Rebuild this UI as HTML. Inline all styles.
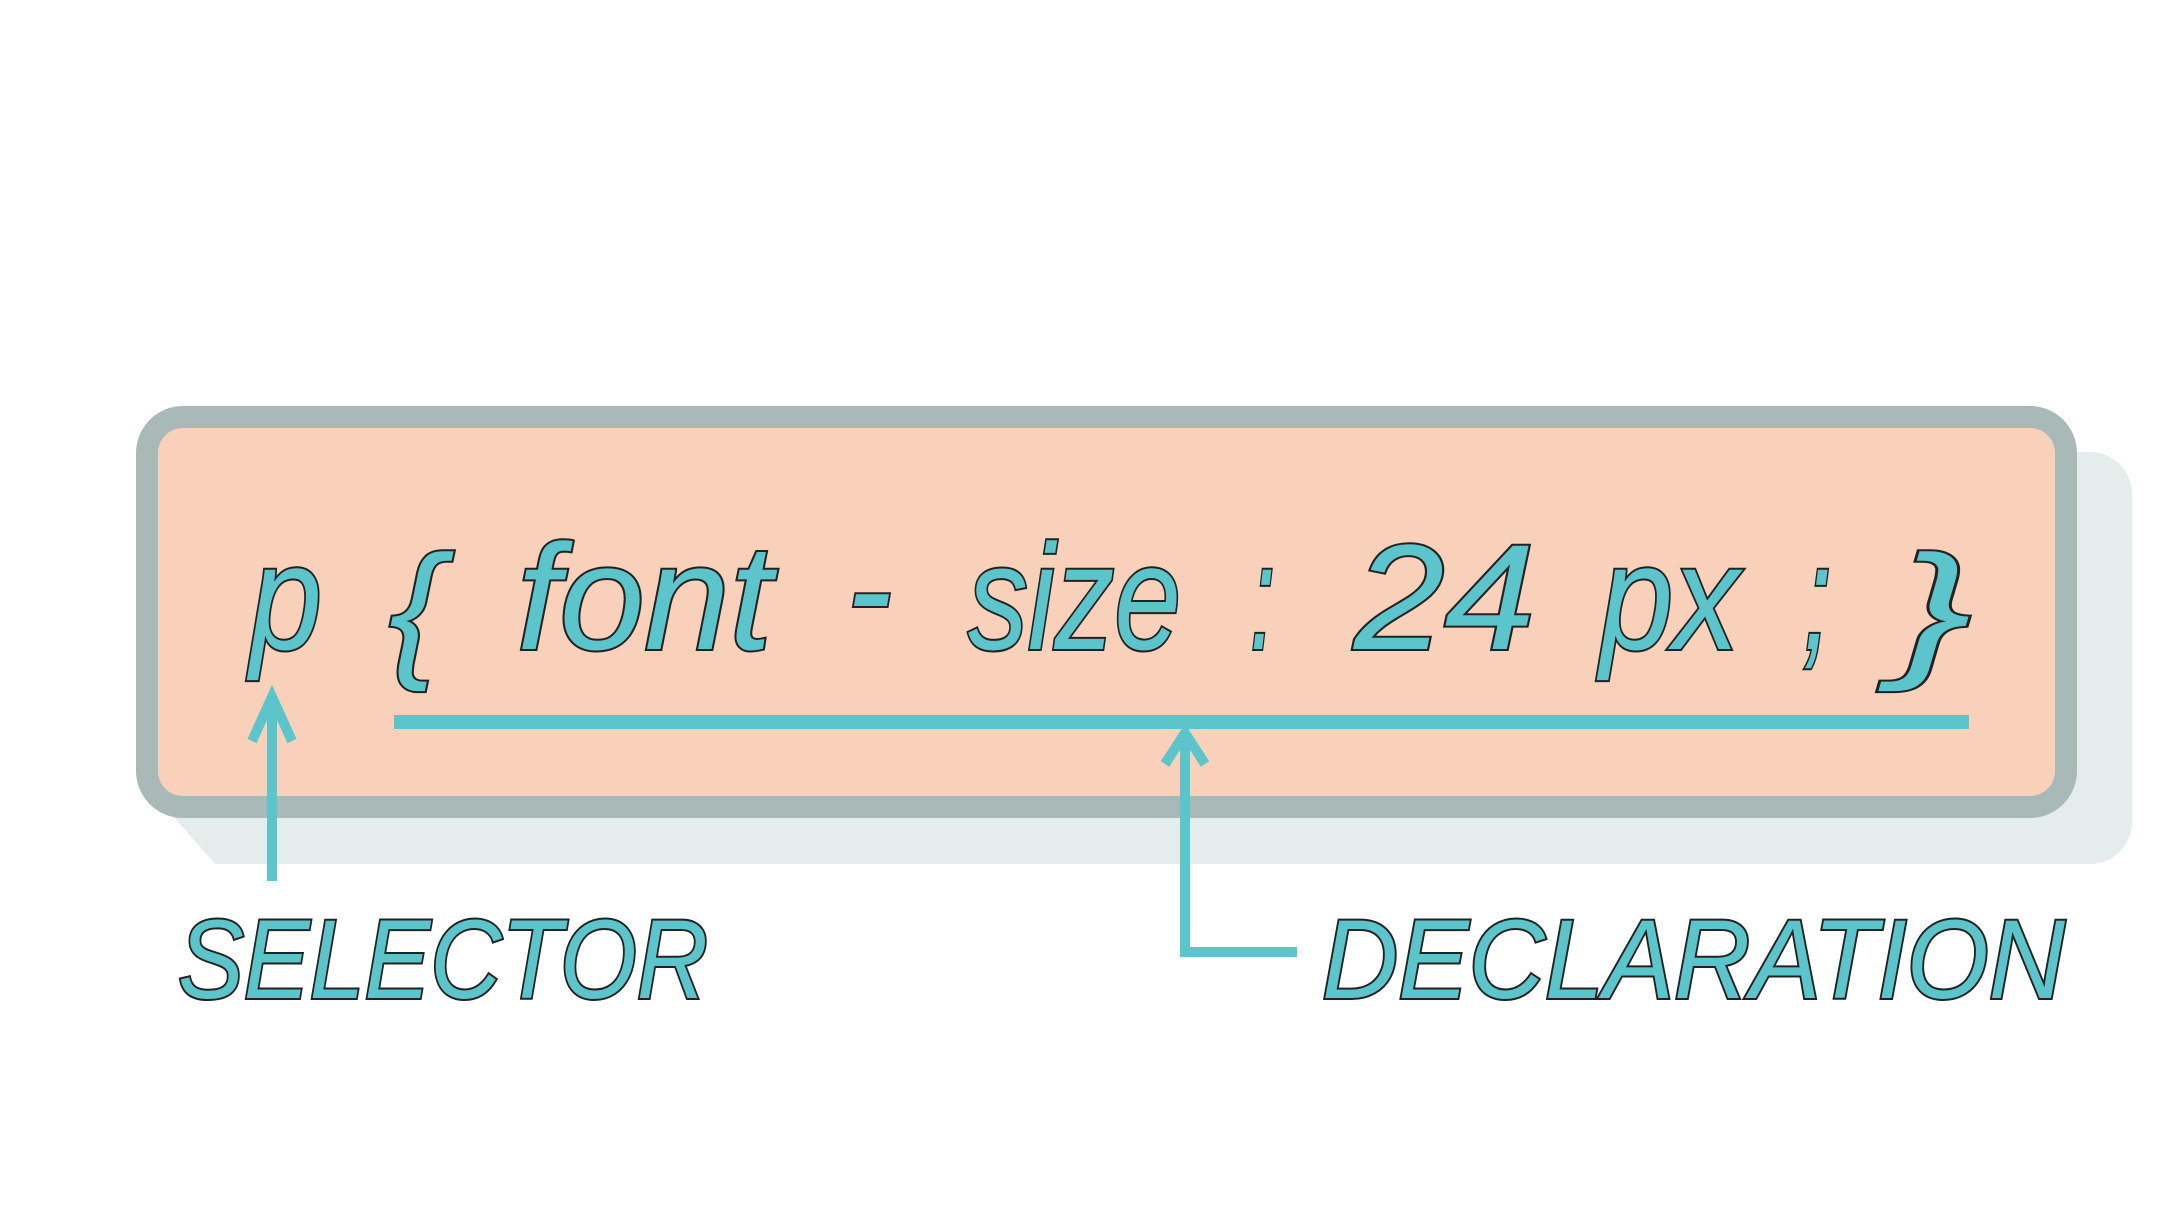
<!DOCTYPE html>
<html><head><meta charset="utf-8"><style>
html,body{margin:0;padding:0;background:#fff;}
svg{display:block;}
.t{font-family:"Liberation Sans",sans-serif;font-style:italic;fill:#5cc5cb;stroke:#222;stroke-width:4;paint-order:stroke;}
</style></head><body>
<svg width="2167" height="1217" viewBox="0 0 2167 1217">
  <g fill="#e5ecec">
    <rect x="200" y="452" width="1932" height="412" rx="42"/>
    <polygon points="150,790 215,864 320,864 320,790"/>
  </g>
  <rect x="147" y="417" width="1919" height="390" rx="36" fill="#f9d0b9" stroke="#a8b9b8" stroke-width="22"/>
  <g class="t" font-size="150">
    <text x="250" y="649" textLength="72" lengthAdjust="spacingAndGlyphs">p</text>
    <text x="389" y="660" textLength="53" lengthAdjust="spacingAndGlyphs">{</text>
    <text x="517" y="649" textLength="255" lengthAdjust="spacingAndGlyphs">font</text>
    <text x="847" y="640" textLength="45" lengthAdjust="spacingAndGlyphs">-</text>
    <text x="968" y="649" textLength="213" lengthAdjust="spacingAndGlyphs">size</text>
    <text x="1250" y="649" textLength="25" lengthAdjust="spacingAndGlyphs">:</text>
    <text x="1354" y="649" textLength="181" lengthAdjust="spacingAndGlyphs">24</text>
    <text x="1600" y="649" textLength="139" lengthAdjust="spacingAndGlyphs">px</text>
    <text x="1803" y="649" textLength="28" lengthAdjust="spacingAndGlyphs">;</text>
    <text x="1896" y="660" textLength="76" lengthAdjust="spacingAndGlyphs">}</text>
  </g>
  <rect x="394" y="715" width="1575" height="14" fill="#5cc5cb"/>
  <g fill="none" stroke="#5cc5cb" stroke-width="10">
    <path d="M272 881 L272 700 M252 741 L272 697 L292 741"/>
    <path d="M1185 734 L1185 952 L1297 952 M1165 764 L1185 733 L1205 764"/>
  </g>
  <g class="t" font-size="112">
    <text x="178" y="998" textLength="530" lengthAdjust="spacingAndGlyphs">SELECTOR</text>
    <text x="1322" y="998" textLength="743" lengthAdjust="spacingAndGlyphs">DECLARATION</text>
  </g>
</svg>
</body></html>
